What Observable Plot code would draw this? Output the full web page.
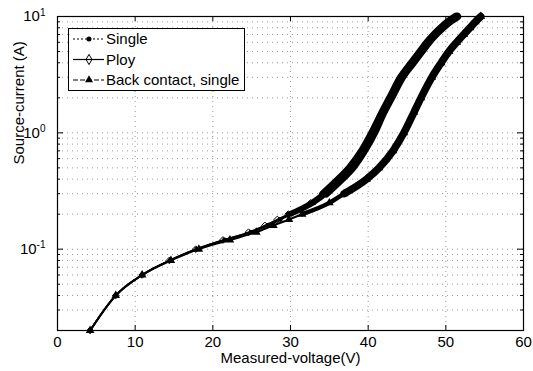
<!DOCTYPE html>
<html><head><meta charset="utf-8">
<script src="https://cdn.jsdelivr.net/npm/d3@7"></script>
<script src="https://cdn.jsdelivr.net/npm/@observablehq/plot@0.6"></script>
<style>
body{margin:0;background:#fff}
#chart{width:533px;height:371px}
</style>
</head><body><div id="chart"></div>
<script>
// ---- data ----
const seriesNames = ["Single", "Ploy", "Back contact, single"];
const sourceCurrent = [0.02,0.04,0.06,0.08,0.10,0.12,0.14,0.16,0.18,0.20,0.25,0.30,0.40,0.50,0.70,1.0,1.5,2.0,3.0,4.0,5.0,6.0,7.0,8.0,9.0,10];
const singleVoltage = [4.2,7.5,10.9,14.5,17.9,21.5,24.9,27.1,28.7,30.1,33.0,34.6,36.6,38.0,39.5,40.8,42.0,43.0,44.4,45.8,46.9,47.8,48.7,49.6,50.5,51.5];
const ployVoltage   = [4.2,7.5,10.9,14.4,17.8,21.3,24.6,26.7,28.3,29.7,32.6,34.2,36.2,37.6,39.2,40.5,41.8,42.8,44.2,45.6,46.7,47.6,48.5,49.4,50.3,51.3];
const backVoltage   = [4.2,7.5,10.9,14.6,18.2,22.2,25.6,27.8,29.8,31.5,35.0,36.9,39.8,41.4,43.2,44.6,45.9,46.8,48.2,49.4,50.4,51.4,52.3,53.1,53.8,54.5];
const xTicks = [0,10,20,30,40,50,60];
const xGrid = [10,20,30,40,50];
const yMajorTicks = [0.1, 1, 10];
const yMinorTicks = [0.02,0.03,0.04,0.05,0.06,0.07,0.08,0.09,0.2,0.3,0.4,0.5,0.6,0.7,0.8,0.9,2,3,4,5,6,7,8,9];
const xLabel = "Measured-voltage(V)";
const yLabel = "Source-current (A)";

// ---- build table ----
const voltages = [singleVoltage, ployVoltage, backVoltage];
const rows = [];
seriesNames.forEach((s, k) => sourceCurrent.forEach((c, i) => rows.push({series: s, current: c, voltage: voltages[k][i]})));
const bySeries = s => rows.filter(d => d.series === s);

const W = 533, H = 371, ML = 57, MR = 10, MT = 16, MB = 41;
const FW = W - ML - MR, FH = H - MT - MB;
const font = "'Liberation Sans', Arial, sans-serif";
const gridStyle = {stroke: "#999", strokeDasharray: "1,4", strokeWidth: 1};
const C = "monotone-x";

const svg = Plot.plot({
  width: W, height: H,
  marginLeft: ML, marginRight: MR, marginTop: MT, marginBottom: MB,
  style: {fontFamily: font, fontSize: "15px", color: "black", background: "white"},
  x: {domain: [0, 60]},
  y: {type: "log", domain: [0.02, 10]},
  marks: [
    Plot.ruleX(xGrid, gridStyle),
    Plot.ruleY([...yMinorTicks, 0.1, 1], gridStyle),
    // inward ticks
    Plot.ruleX(xTicks, {insetTop: FH - 5, stroke: "black"}),
    Plot.ruleX(xTicks, {insetBottom: FH - 5, stroke: "black"}),
    Plot.ruleY(yMajorTicks, {insetRight: FW - 6, stroke: "black"}),
    Plot.ruleY(yMajorTicks, {insetLeft: FW - 6, stroke: "black"}),
    Plot.ruleY(yMinorTicks, {insetRight: FW - 3, stroke: "black"}),
    Plot.ruleY(yMinorTicks, {insetLeft: FW - 3, stroke: "black"}),
    // curves
    Plot.line(bySeries("Single"), {x: "voltage", y: "current", stroke: "black", strokeWidth: 2, strokeDasharray: "2,1.5", curve: C}),
    Plot.line(bySeries("Ploy"), {x: "voltage", y: "current", stroke: "black", strokeWidth: 1.6, curve: C}),
    Plot.line(bySeries("Back contact, single"), {x: "voltage", y: "current", stroke: "black", strokeWidth: 2, curve: C}),
    Plot.line(rows.filter(d => d.current >= 0.2), {x: "voltage", y: "current", z: "series", stroke: "black", strokeWidth: 4.5, strokeLinecap: "round", curve: C}),
    Plot.line(rows.filter(d => d.current >= 0.3), {x: "voltage", y: "current", z: "series", stroke: "black", strokeWidth: 7.5, strokeLinecap: "round", curve: C}),
    Plot.dot(bySeries("Single"), {x: "voltage", y: "current", symbol: "circle", fill: "black", r: 2.4}),
    Plot.dot(bySeries("Ploy"), {x: "voltage", y: "current", symbol: "diamond2", stroke: "black", fill: "none", r: 3, strokeWidth: 1}),
    Plot.dot(bySeries("Back contact, single"), {x: "voltage", y: "current", symbol: "triangle", fill: "black", r: 3.2}),
    Plot.frame({stroke: "black", strokeWidth: 1.2}),
    // tick labels
    Plot.axisX(xTicks, {tickSize: 0, tickPadding: 6, tickFormat: d => String(d), label: null}),
    Plot.axisY(yMajorTicks, {tickSize: 0, tickPadding: 12, tickFormat: d => "10^" + Math.round(Math.log10(d)), label: null}),
    // axis titles
    Plot.text([xLabel], {frameAnchor: "bottom", dy: 32, text: d => d, fontSize: 15}),
    Plot.text([yLabel], {frameAnchor: "left", dx: -38, dy: -9, rotate: -90, text: d => d, fontSize: 15})
  ]
});

// superscript exponents on y tick labels
const ns = "http://www.w3.org/2000/svg";
svg.querySelectorAll('[aria-label="y-axis tick label"] text').forEach(t => {
  const parts = t.textContent.split("^");
  if (parts.length !== 2) return;
  t.textContent = "";
  const a = document.createElementNS(ns, "tspan"); a.textContent = parts[0]; t.appendChild(a);
  const e = document.createElementNS(ns, "tspan");
  e.setAttribute("dy", "-0.55em"); e.setAttribute("font-size", "10"); e.textContent = parts[1];
  t.appendChild(e);
});

// legend (MATLAB style box, upper left)
const lg = d3.select(svg).append("g").attr("font-family", font).attr("font-size", 15).attr("text-anchor", "start");
lg.append("rect").attr("x", 68.5).attr("y", 28.5).attr("width", 176).attr("height", 62)
  .attr("fill", "white").attr("stroke", "black").attr("stroke-width", 1);
const legendStyles = [
  {dash: "2,2", sym: d3.symbolCircle, size: 20, fill: "black", stroke: "none"},
  {dash: null, sym: d3.symbolDiamond, size: 30, fill: "none", stroke: "black"},
  {dash: "5,2", sym: d3.symbolTriangle, size: 28, fill: "black", stroke: "none"}
];
seriesNames.forEach((s, i) => {
  const y = 39 + i * 20.5;
  const st = legendStyles[i];
  lg.append("line").attr("x1", 73).attr("x2", 104).attr("y1", y).attr("y2", y)
    .attr("stroke", "black").attr("stroke-width", 1.2).attr("stroke-dasharray", st.dash);
  lg.append("path").attr("d", d3.symbol(st.sym, st.size)()).attr("transform", `translate(89,${y})`)
    .attr("fill", st.fill).attr("stroke", st.stroke);
  lg.append("text").attr("x", 106).attr("y", y).attr("dy", "0.35em").attr("text-anchor", "start").text(s);
});

document.getElementById("chart").appendChild(svg);
</script>
</body></html>
